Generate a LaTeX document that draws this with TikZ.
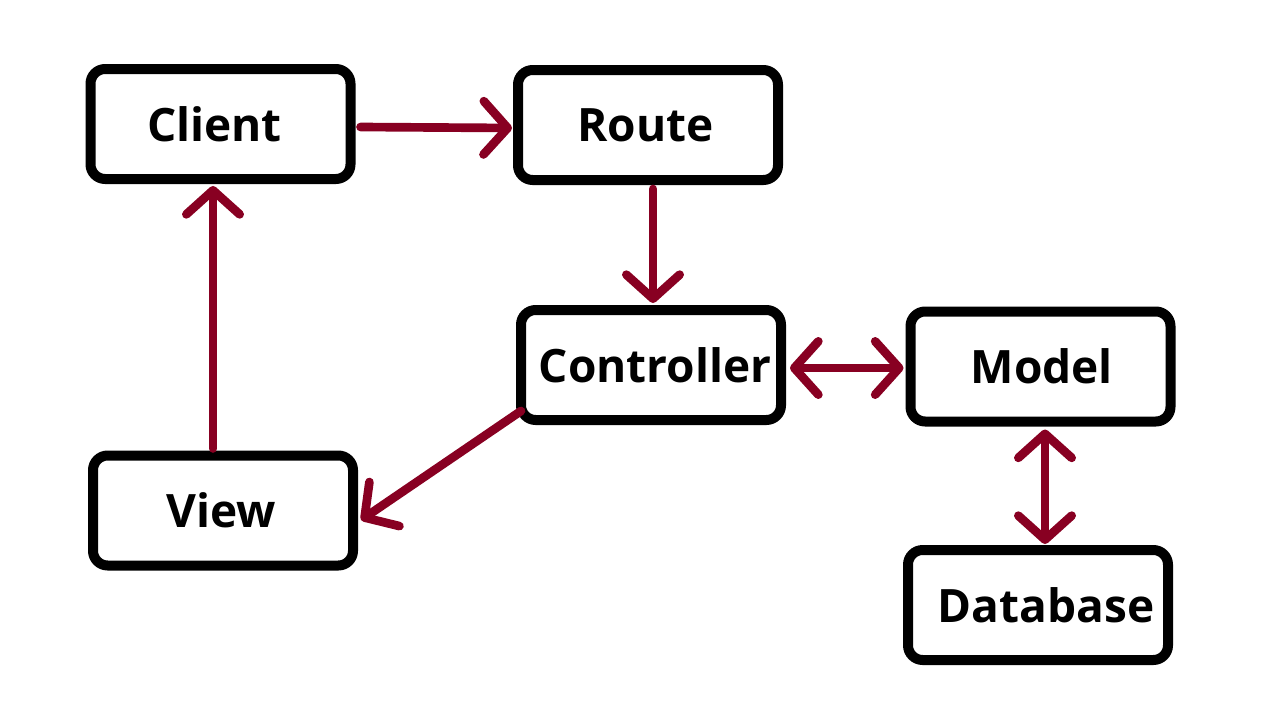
\documentclass[tikz,border=0pt]{standalone}
\usepackage{fontspec}
\setmainfont{Open Sans}
\usetikzlibrary{arrows.meta,calc}
\definecolor{arrowred}{HTML}{880022}
\begin{document}
\begin{tikzpicture}[x=0.75pt,y=-0.75pt,
  box/.style={draw=black, line width=7.5pt, rounded corners=11pt, fill=white,
    minimum width=195pt, minimum height=82.5pt, inner sep=0pt,
    font=\fontsize{34.5}{40}\selectfont\bfseries},
  barb/.tip={Straight Barb[length=18pt,width=40pt,line cap=round,line join=round]},
  conn/.style={draw=arrowred, line width=6.5pt, line cap=round, -barb},
  both/.style={draw=arrowred, line width=6.5pt, line cap=round, barb-barb}
]
\useasboundingbox (0,0) rectangle (1278,728);
\fill[white] (0,0) rectangle (1278,728);
\node[box] (client) at (220.5,124) {Client\hspace*{9pt}};
\node[box] (route) at (648,125) {Route\hspace*{4pt}};
\node[box] (controller) at (651,365) {\hspace*{6pt}Controller};
\node[box] (model) at (1040.5,366.5) {\hspace*{2pt}Model};
\node[box] (view) at (223,510.5) {View\hspace*{3pt}};
\node[box] (database) at (1038,605) {\hspace*{12pt}Database};

\draw[conn] ($(client.east)+(5,3)$) -- ($(route.west)+(-1,3)$);
\draw[conn] ($(route.south)+(5,4)$) -- ($(controller.north)+(2,-2)$);
\draw[both] ($(controller.east)+(4,3)$) -- ($(model.west)+(-2,1.5)$);
\draw[both] ($(model.south)+(4.5,3)$) -- ($(database.north)+(7,-1)$);
\draw[conn] ($(controller.south west)+(5,-14)$) -- ($(view.east)+(3,9.5)$);
\draw[conn] ($(view.north)+(-10,-2)$) -- ($(client.south)+(-7.5,2)$);
\end{tikzpicture}
\end{document}
